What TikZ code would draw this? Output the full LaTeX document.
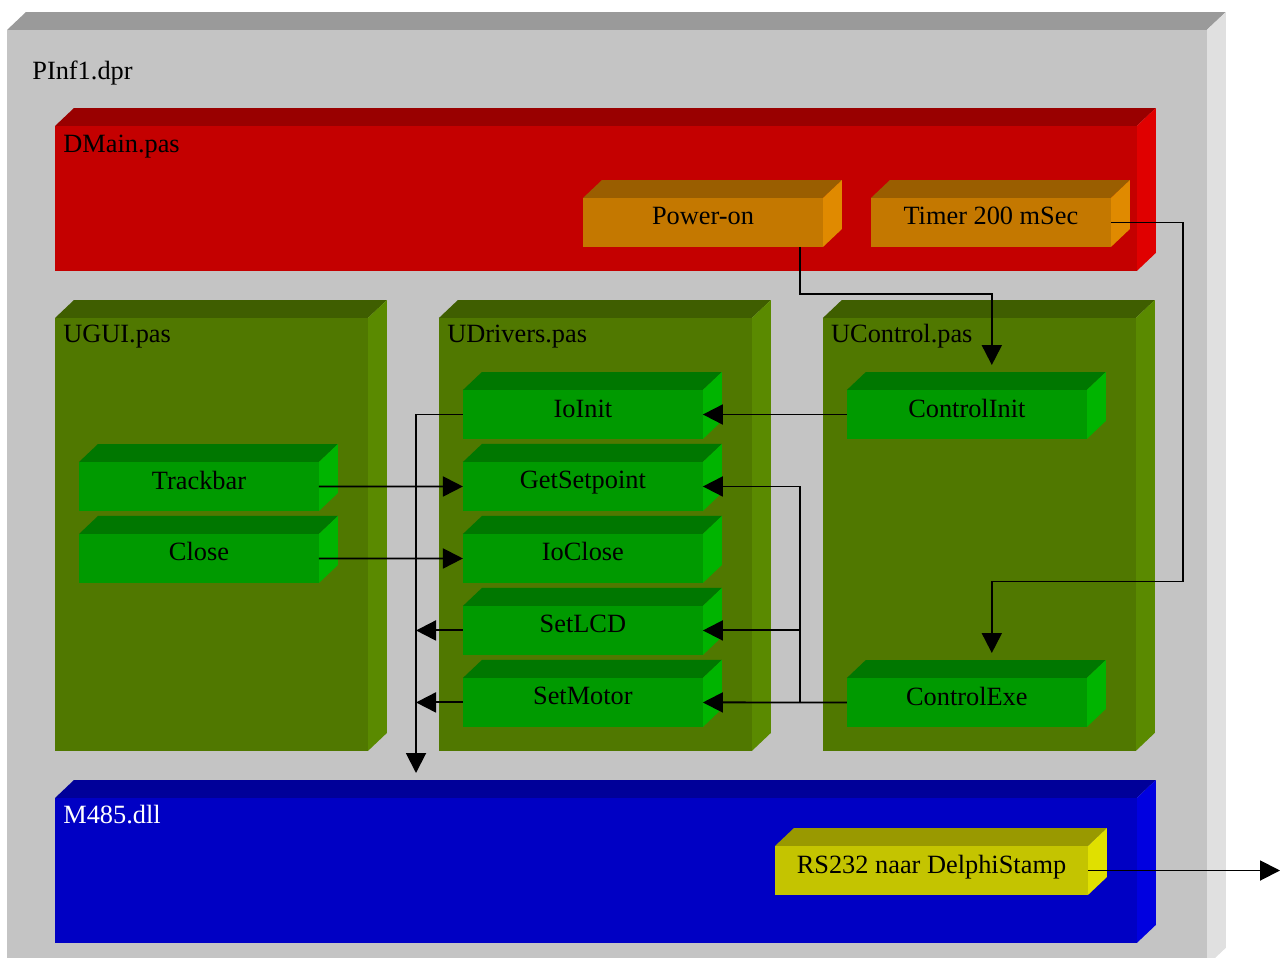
\documentclass[tikz,border=0pt]{standalone}
\usepackage{fontspec}
\setmainfont{Liberation Serif}
\usetikzlibrary{arrows.meta, positioning, calc}

\definecolor{grayF}{HTML}{C4C4C4}
\definecolor{grayT}{HTML}{9A9A9A}
\definecolor{grayS}{HTML}{E0E0E0}
\definecolor{redF}{HTML}{C40000}
\definecolor{redT}{HTML}{990000}
\definecolor{redS}{HTML}{E00000}
\definecolor{orangeF}{HTML}{C47800}
\definecolor{orangeT}{HTML}{9A5E00}
\definecolor{orangeS}{HTML}{E08A00}
\definecolor{oliveF}{HTML}{507800}
\definecolor{oliveT}{HTML}{3F5E00}
\definecolor{oliveS}{HTML}{5A8A00}
\definecolor{greenF}{HTML}{009A00}
\definecolor{greenT}{HTML}{007700}
\definecolor{greenS}{HTML}{00B400}
\definecolor{blueF}{HTML}{0000C4}
\definecolor{blueT}{HTML}{000099}
\definecolor{blueS}{HTML}{0000E0}
\definecolor{yellowF}{HTML}{C4C400}
\definecolor{yellowT}{HTML}{999900}
\definecolor{yellowS}{HTML}{E0E000}

\begin{document}
\begin{tikzpicture}[x=0.02cm, y=-0.02cm,
    cube/.style={fill=#1F, draw=none, inner sep=0pt, outer sep=0pt, append after command={\pgfextra{
        \fill[#1T] (\tikzlastnode.north west) -- ++(19,-18) -- ([shift={(19,-18)}]\tikzlastnode.north east) -- (\tikzlastnode.north east) -- cycle;
        \fill[#1S] (\tikzlastnode.north east) -- ++(19,-18) -- ([shift={(19,-18)}]\tikzlastnode.south east) -- (\tikzlastnode.south east) -- cycle;}}},
    unit/.style={cube=#1, minimum width=4.8cm, minimum height=0.98cm, font=\fontsize{15}{18}\selectfont, text height=0.36cm, text depth=0.26cm},
    unit/.default=green,
    module/.style={cube=olive, minimum width=6.26cm, minimum height=8.66cm},
    lbl/.style={anchor=base west, inner sep=0pt, font=\fontsize{15}{18}\selectfont},
    arr/.style={-{Triangle[length=0.4cm, width=0.4cm]}, line width=1.1pt},
]
  \useasboundingbox (0,0) rectangle (1281,957);
  \clip (0,0) rectangle (1281,957);
  \fill[white] (0,0) rectangle (1281,957);

  % project
  \node[cube=gray, minimum width=24cm, minimum height=18.72cm, anchor=north west] (prj) at (7,30) {};
  \node[lbl] (prj-l) at (32,79) {PInf1.dpr};

  % main form
  \node[cube=red, minimum width=21.64cm, minimum height=2.9cm, anchor=north west] (dmain) at (55,126) {};
  \node[lbl] (dmain-l) at ($(dmain.north west)+(8,26)$) {DMain.pas};
  \node[unit=orange, anchor=north west] (pon) at (583,198) {Power-on};
  \node[unit=orange, right=0.96cm of pon] (tmr) {Timer 200 mSec};

  % units
  \node[module, anchor=north west] (ugui) at (55,318) {};
  \node[module, right=1.42cm of ugui] (udrv) {};
  \node[module, right=1.42cm of udrv] (uctl) {};
  \node[lbl] (ugui-l) at ($(ugui.north west)+(8,24)$) {UGUI.pas};
  \node[lbl] (udrv-l) at ($(udrv.north west)+(8,24)$) {UDrivers.pas};
  \node[lbl] (uctl-l) at ($(uctl.north west)+(8,24)$) {UControl.pas};

  \node[unit, anchor=north west] (tbar) at ($(ugui.north west)+(24,144)$) {Trackbar};
  \node[unit, below=0.46cm of tbar] (close) {Close};

  \node[unit, anchor=north west] (ioinit) at ($(udrv.north west)+(24,72)$) {IoInit};
  \node[unit, below=0.46cm of ioinit] (gset) {GetSetpoint};
  \node[unit, below=0.46cm of gset] (iocl) {IoClose};
  \node[unit, below=0.46cm of iocl] (slcd) {SetLCD};
  \node[unit, below=0.46cm of slcd] (smot) {SetMotor};

  \node[unit, anchor=north west] (cinit) at ($(uctl.north west)+(24,72)$) {ControlInit};
  \node[unit, anchor=north west] (cexe) at ($(uctl.north west)+(24,360)$) {ControlExe};

  % dll
  \node[cube=blue, minimum width=21.64cm, minimum height=2.9cm, anchor=north west] (m485) at (55,798) {};
  \node[lbl, text=white] (m485-l) at ($(m485.north west)+(8,25)$) {M485.dll};
  \node[unit=yellow, minimum width=6.26cm, anchor=north west] (rs) at ($(m485.north west)+(720,48)$) {RS232 naar DelphiStamp};

  \coordinate (bus) at ($(m485.north west)+(361,-25)$);
  \coordinate (jn) at ($(cexe.west)+(-47,0)$);
  \coordinate (ext) at (1280,0);

  % calls
  \draw[arr] ([xshift=-0.46cm]pon.south east) -- ++(0,47) -| ([xshift=0.5cm,yshift=0.5cm]cinit.north);
  \draw[arr] (tmr.east) -- ++(72,0) -- ++(0,359) -| ([xshift=0.5cm,yshift=0.5cm]cexe.north);
  \draw[arr] (cinit.west) -- (ioinit.east);
  \draw[arr] (cexe.west) -- (smot.east);
  \draw[arr] (jn) |- (gset.east);
  \draw[arr] (jn |- slcd.east) -- (slcd.east);
  \draw[arr] (tbar.east) -- (gset.west);
  \draw[arr] (close.east) -- (iocl.west);
  \draw[arr] (ioinit.west) -| (bus);
  \draw[arr] (slcd.west) -- (slcd.west -| bus);
  \draw[arr] (smot.west) -- (smot.west -| bus);
  \draw[arr] (rs.east) -- (rs.east -| ext);
\end{tikzpicture}
\end{document}
